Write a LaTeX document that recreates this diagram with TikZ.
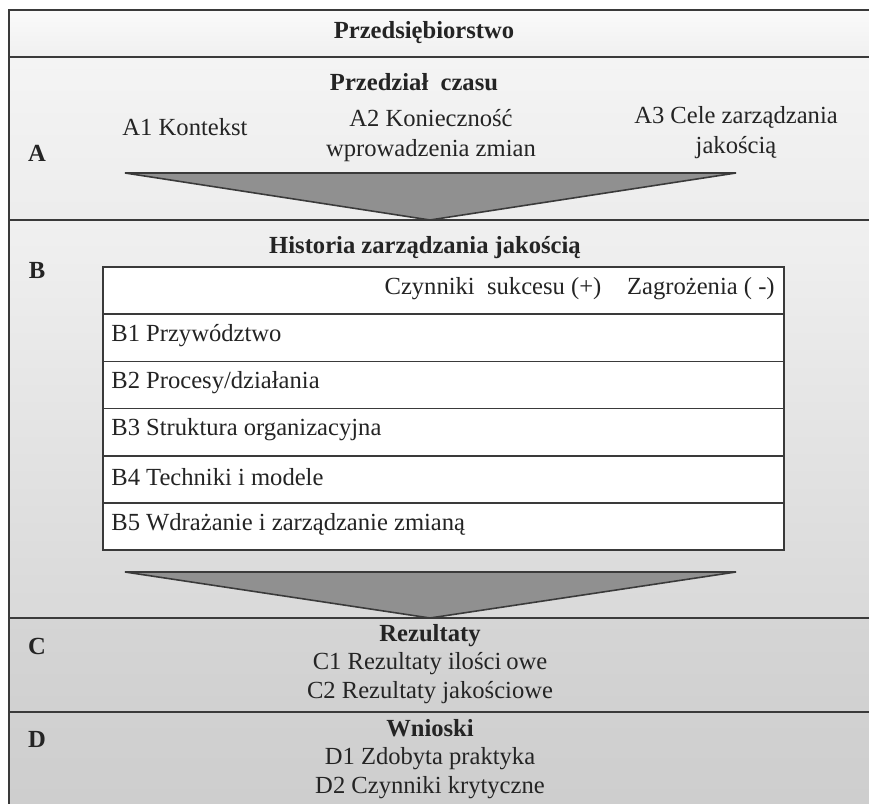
\documentclass[tikz,border=0pt]{standalone}
\usepackage{fontspec}
\setmainfont{Liberation Serif}
\usepackage{tikz}
\usetikzlibrary{positioning, calc}
\definecolor{framegray}{HTML}{3A3A3A}
\definecolor{inkgray}{HTML}{242424}
\definecolor{funnelgray}{HTML}{909090}
\definecolor{bandwhite}{HTML}{FAFAFA}
\definecolor{bandA}{HTML}{F4F4F4}
\definecolor{bandBtop}{HTML}{F0F0F0}
\definecolor{bandBbot}{HTML}{D9D9D9}
\definecolor{bandC}{HTML}{D5D5D5}
\definecolor{bandD}{HTML}{D1D1D1}

\begin{document}
\begin{tikzpicture}[
    x=0.02cm, y=-0.02cm,
    txt/.style={font=\fontsize{14}{17}\selectfont, text=inkgray, align=center, inner sep=0pt},
    head/.style={txt, font=\fontsize{14}{17}\selectfont\bfseries},
    rowbox/.style={draw=framegray, line width=0.9pt, fill=white},
    rule/.style={draw=framegray, line width=0.9pt},
    funnel/.style={draw=framegray, line width=0.9pt, fill=funnelgray, line join=miter},
]
\clip (0,0) rectangle (869,804);

% bands
\shade[top color=bandwhite, bottom color=bandwhite!96!black] (9,10) rectangle (900,57);
\shade[top color=bandA, bottom color=bandA!97!black] (9,57) rectangle (900,220);
\shade[top color=bandBtop, bottom color=bandBbot] (9,220) rectangle (900,618);
\shade[top color=bandC, bottom color=bandC!98!black] (9,618) rectangle (900,712);
\shade[top color=bandD, bottom color=bandD!98!black] (9,712) rectangle (900,840);
\draw[rule] (9,840) -- (9,10) -- (900,10);
\foreach \yy in {57,220,618,712}
    \draw[rule] (9,\yy) -- (900,\yy);

% A
\node[head] (firm) at (424,33) {Przedsiębiorstwo};
\node[head] (period) at (414,82) {Przedział\ \ czasu};
\node[head] (secA) at (37,153) {A};
\node[txt] (ctx) at (185,127) {A1 Kontekst};
\node[txt] (need) at (431,136) {A2 Konieczność\\wprowadzenia zmian};
\node[txt] (goals) at (736,133) {A3 Cele zarządzania\\jakością};
\coordinate (funA1) at (125,173);
\coordinate (funA2) at (736,173);
\coordinate (funA3) at (430,220);
\draw[funnel] (funA1) -- (funA2) -- (funA3) -- cycle;

% B
\node[head] (hist) at (425,248) {Historia zarządzania jakością};
\node[head] (secB) at (37,270) {B};
\draw[rowbox] (103,267) rectangle (784,314.2);
\node[txt] (plus) at (493,289) {Czynniki\ \ sukcesu (+)};
\node[txt, anchor=east] (minus) at (775,289) {Zagrożenia ( -)};
\foreach \lab [count=\i] in {B1 Przywództwo, B2 Procesy/działania, B3 Struktura organizacyjna, B4 Techniki i modele, B5 Wdrażanie i zarządzanie zmianą}{
    \pgfmathsetmacro{\yt}{267+47.2*\i}
    \pgfmathsetmacro{\yb}{\yt+47.2}
    \draw[rowbox] (103,\yt) rectangle (784,\yb);
    \node[txt, anchor=west] (row\i) at (111,\yt+21.5) {\lab};
}
\coordinate (funB1) at (125,572);
\coordinate (funB2) at (736,572);
\coordinate (funB3) at (430,618);
\draw[funnel] (funB1) -- (funB2) -- (funB3) -- cycle;

% C, D
\node[head] (secC) at (37,646) {C};
\node[txt, font=\fontsize{14}{16.3}\selectfont] (results) at (430,664) {\textbf{Rezultaty}\\C1 Rezultaty ilości\hspace{0.2em}owe\\C2 Rezultaty jakościowe};
\node[head] (secD) at (37,739) {D};
\node[txt, font=\fontsize{14}{16.3}\selectfont] (lessons) at (430,759) {\textbf{Wnioski}\\D1 Zdobyta praktyka\\D2 Czynniki krytyczne};
\end{tikzpicture}
\end{document}
